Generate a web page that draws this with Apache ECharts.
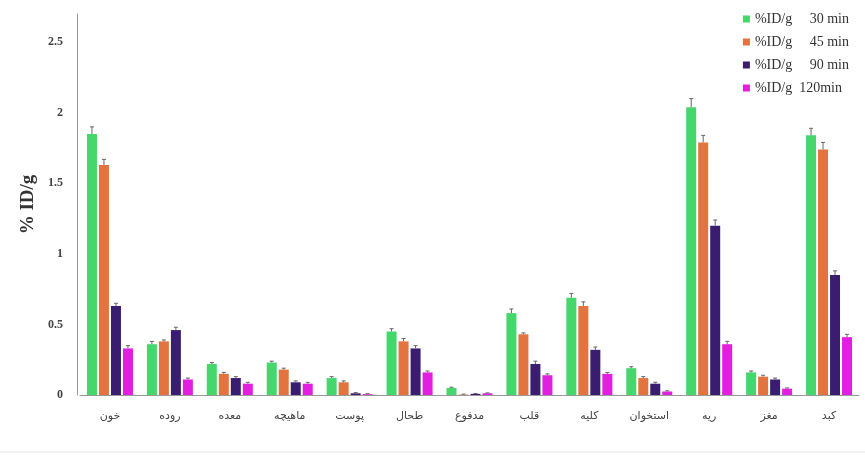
<!DOCTYPE html>
<html>
<head>
<meta charset="utf-8">
<script src="https://cdn.jsdelivr.net/npm/echarts@6/dist/echarts.min.js"></script>
<style>
  html, body { margin: 0; padding: 0; background: #fff; }
  #chart { width: 865px; height: 456px; }
</style>
</head>
<body>
<div id="chart"></div>
<script>
// organs
var categories = ['خون', 'روده', 'معده', 'ماهیچه', 'پوست', 'طحال', 'مدفوع', 'قلب', 'کلیه', 'استخوان', 'ریه', 'مغز', 'کبد'];

var seriesNames = ['%ID/g     30 min', '%ID/g     45 min', '%ID/g     90 min', '%ID/g  120min'];

var min30  = [1.85, 0.36, 0.22, 0.23, 0.12, 0.45, 0.05, 0.58, 0.69, 0.19, 2.04, 0.16, 1.84];
var min45  = [1.63, 0.38, 0.15, 0.18, 0.09, 0.38, 0.003, 0.43, 0.63, 0.12, 1.79, 0.13, 1.74];
var min90  = [0.63, 0.46, 0.12, 0.09, 0.012, 0.33, 0.008, 0.22, 0.32, 0.08, 1.2, 0.11, 0.85];
var min120 = [0.33, 0.11, 0.08, 0.08, 0.006, 0.16, 0.012, 0.14, 0.15, 0.025, 0.36, 0.045, 0.41];

var err30  = [0.05, 0.02, 0.01, 0.01, 0.01, 0.02, 0.005, 0.03, 0.03, 0.01, 0.06, 0.01, 0.05];
var err45  = [0.04, 0.01, 0.01, 0.01, 0.01, 0.02, 0.003, 0.01, 0.03, 0.01, 0.05, 0.01, 0.05];
var err90  = [0.02, 0.02, 0.01, 0.01, 0.005, 0.02, 0.003, 0.02, 0.02, 0.01, 0.04, 0.01, 0.03];
var err120 = [0.02, 0.01, 0.01, 0.01, 0.003, 0.01, 0.003, 0.01, 0.01, 0.005, 0.02, 0.005, 0.02];

var colors = ['#45d66c', '#e3733f', '#3a1d70', '#e21fe0'];

var values = [min30, min45, min90, min120];
var errors = [err30, err45, err90, err120];

var barW = 10, gapW = 2;

function errorSeries(k) {
  var offset = (k - 1.5) * (barW + gapW);
  return {
    type: 'custom',
    silent: true,
    z: 5,
    data: values[k].map(function (v, i) { return [i, v, errors[k][i]]; }),
    renderItem: function (params, api) {
      var lo = api.coord([api.value(0), api.value(1)]);
      var hi = api.coord([api.value(0), api.value(1) + api.value(2)]);
      var x = lo[0] + offset;
      var style = { stroke: '#666', lineWidth: 1 };
      return {
        type: 'group',
        children: [
          { type: 'line', shape: { x1: x, y1: lo[1], x2: x, y2: hi[1] }, style: style },
          { type: 'line', shape: { x1: x - 2, y1: hi[1], x2: x + 2, y2: hi[1] }, style: style }
        ]
      };
    }
  };
}

var series = [];
values.forEach(function (vals, k) {
  series.push({
    name: seriesNames[k],
    type: 'bar',
    barWidth: barW,
    barGap: '20%',
    data: vals,
    itemStyle: { color: colors[k] }
  });
});
values.forEach(function (vals, k) { series.push(errorSeries(k)); });

var chart = echarts.init(document.getElementById('chart'));
chart.setOption({
  backgroundColor: '#fff',
  animation: false,
  legend: {
    orient: 'vertical',
    right: 11,
    top: 7,
    itemWidth: 7,
    itemHeight: 7,
    itemGap: 9,
    icon: 'rect',
    data: seriesNames,
    textStyle: { fontFamily: 'Liberation Serif', fontSize: 14, color: '#333' }
  },
  graphic: [{
    type: 'line',
    shape: { x1: 0, y1: 452, x2: 865, y2: 452 },
    style: { stroke: '#e4e4e4', lineWidth: 1 }
  }],
  grid: { left: 80, right: 6, top: 14, bottom: 61 },
  xAxis: {
    type: 'category',
    data: categories,
    axisLine: { lineStyle: { color: '#999' } },
    axisTick: { show: false },
    axisLabel: { margin: 16, fontFamily: 'DejaVu Sans', fontSize: 11, color: '#444' }
  },
  yAxis: {
    type: 'value',
    min: 0,
    max: 2.7,
    interval: 0.5,
    offset: 3,
    name: '% ID/g',
    nameLocation: 'middle',
    nameGap: 34,
    nameTextStyle: { fontFamily: 'Liberation Serif', fontWeight: 'bold', fontSize: 19, color: '#333' },
    axisLine: { show: true, lineStyle: { color: '#999' } },
    axisTick: { show: false },
    splitLine: { show: false },
    axisLabel: {
      showMaxLabel: false,
      margin: 14,
      fontFamily: 'Liberation Serif',
      fontWeight: 'bold',
      fontSize: 12,
      color: '#444'
    }
  },
  series: series
});
</script>
</body>
</html>
